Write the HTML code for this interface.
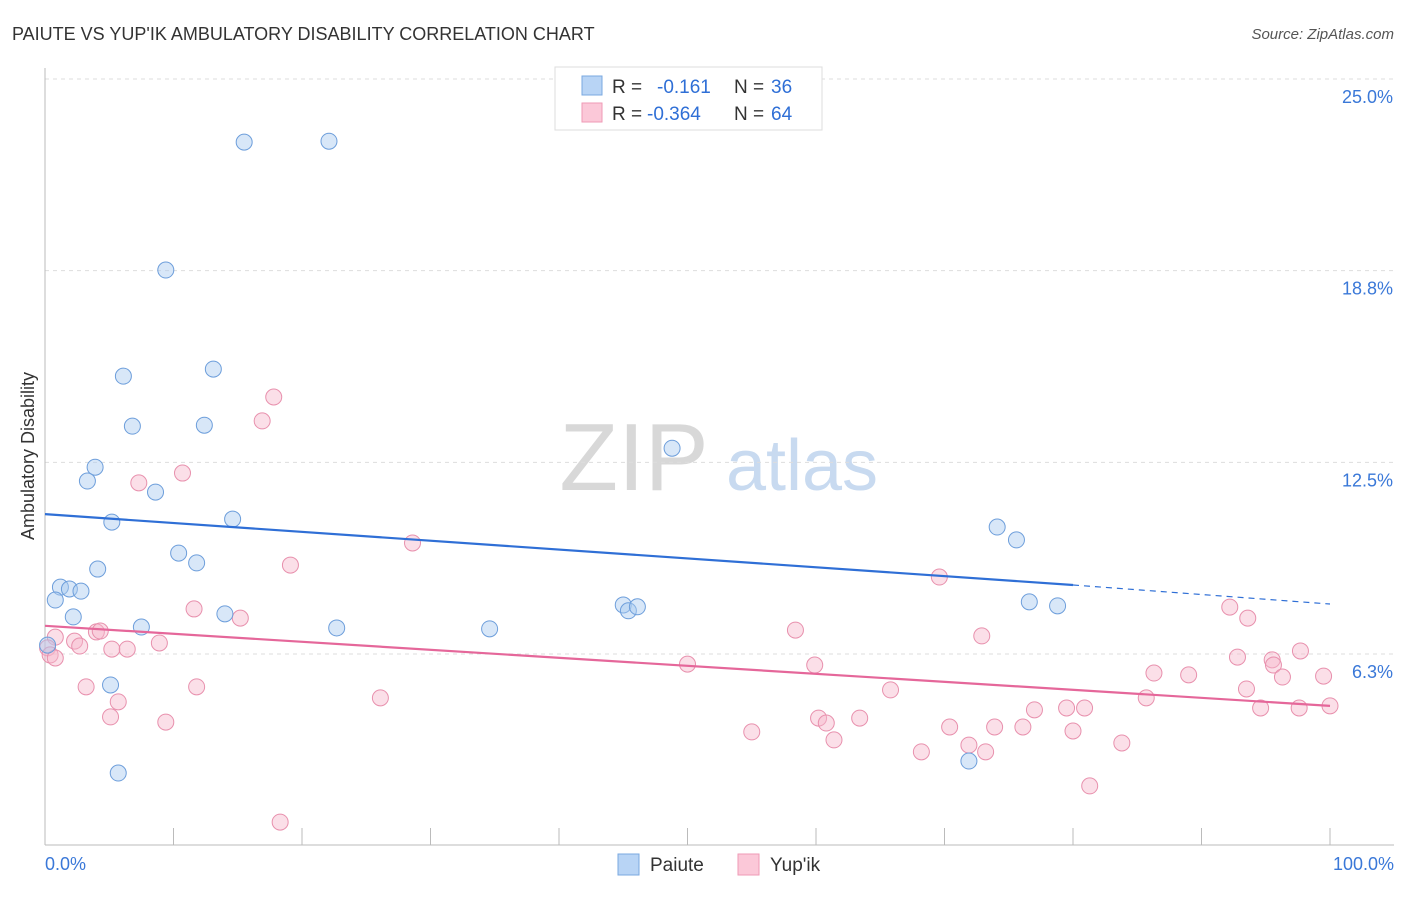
<!DOCTYPE html>
<html><head><meta charset="utf-8"><style>
body{margin:0;background:#fff;font-family:"Liberation Sans",sans-serif;}
svg text{font-family:"Liberation Sans",sans-serif;}
</style></head><body>
<svg id="chart" width="1406" height="892" viewBox="0 0 1406 892" xmlns="http://www.w3.org/2000/svg">
<text x="12" y="40" font-size="18" fill="#333">PAIUTE VS YUP'IK AMBULATORY DISABILITY CORRELATION CHART</text>
<text x="1394" y="39" font-size="15" fill="#555" text-anchor="end" font-style="italic">Source: ZipAtlas.com</text>
<g>
<text x="634" y="490" font-size="96" fill="#d8d8d8" text-anchor="middle" font-family="Liberation Serif, serif">ZIP</text>
<text x="802" y="490" font-size="72" fill="#c8daf0" text-anchor="middle">atlas</text>
</g>
<g id="grid"></g>
<g id="axes"></g>
<g id="marks"></g>
<text transform="translate(34,456) rotate(-90)" font-size="18" fill="#333" text-anchor="middle">Ambulatory Disability</text>
<g>
<rect x="555" y="67" width="267" height="63" fill="#fff" stroke="#ddd"/>
<rect x="582" y="76" width="20" height="19" fill="#b8d4f5" stroke="#7aa8e0"/>
<rect x="582" y="103" width="20" height="19" fill="#fbc8d8" stroke="#ef9ab6"/>
<text x="612" y="93" font-size="19" fill="#333">R = </text><text x="657" y="93" font-size="19" fill="#2f6fd6">-0.161</text>
<text x="734" y="93" font-size="19" fill="#333">N = </text><text x="771" y="93" font-size="19" fill="#2f6fd6">36</text>
<text x="612" y="120" font-size="19" fill="#333">R = </text><text x="647" y="120" font-size="19" fill="#2f6fd6">-0.364</text>
<text x="734" y="120" font-size="19" fill="#333">N = </text><text x="771" y="120" font-size="19" fill="#2f6fd6">64</text>
</g>
<g>
<rect x="618" y="854" width="21" height="21" fill="#b8d4f5" stroke="#7aa8e0"/>
<text x="650" y="871" font-size="19" fill="#333">Paiute</text>
<rect x="738" y="854" width="21" height="21" fill="#fbc8d8" stroke="#ef9ab6"/>
<text x="770" y="871" font-size="19" fill="#333">Yup'ik</text>
</g>
</svg>
<script>
const yTicks=[6.25,12.5,18.75,25];
const yTickLabels=["6.3%","12.5%","18.8%","25.0%"];
const xTicks=[0,10,20,30,40,50,60,70,80,90,100];
const paiuteX=[15.5,22.1,9.4,6.1,13.1,6.8,12.4,3.9,3.3,8.6,48.8,5.2,14.6,10.4,11.8,4.1,1.2,1.9,2.8,0.8,2.2,7.5,14.0,22.7,34.6,45.0,45.4,46.1,74.1,75.6,76.6,78.8,5.1,5.7,71.9,0.2];
const paiuteY=[22.94,22.97,18.77,15.31,15.54,13.68,13.71,12.34,11.89,11.53,12.96,10.55,10.65,9.54,9.22,9.02,8.43,8.37,8.30,8.01,7.46,7.13,7.56,7.10,7.07,7.85,7.66,7.79,10.39,9.97,7.95,7.82,5.24,2.37,2.76,6.54];
const yupikX=[17.8,16.9,10.7,7.3,28.6,19.1,11.6,15.2,69.6,58.4,72.9,92.2,93.6,0.8,2.3,4.0,4.3,2.7,5.2,6.4,8.9,0.2,0.4,0.8,3.2,5.7,11.8,5.1,9.4,26.1,50.0,59.9,65.8,86.3,89.0,92.8,95.5,95.6,97.7,99.5,85.7,93.5,96.3,55.0,60.2,60.8,61.4,63.4,70.4,68.2,71.9,73.2,73.9,76.1,77.0,79.5,80.9,80.0,83.8,81.3,94.6,97.6,100,18.3];
const yupikY=[14.63,13.85,12.15,11.83,9.87,9.15,7.72,7.42,8.76,7.03,6.84,7.78,7.42,6.80,6.67,6.97,7.00,6.51,6.41,6.41,6.61,6.45,6.22,6.12,5.18,4.69,5.18,4.20,4.03,4.82,5.92,5.89,5.08,5.63,5.57,6.15,6.06,5.89,6.35,5.53,4.82,5.11,5.50,3.71,4.16,4.00,3.45,4.16,3.87,3.06,3.28,3.06,3.87,3.87,4.43,4.49,4.49,3.74,3.35,1.95,4.49,4.49,4.56,0.77];
const paiuteTrendX=[0,80,100];
const paiuteTrendY=[10.81,8.50,7.88];
const yupikTrendX=[0,100];
const yupikTrendY=[7.17,4.56];

const NS="http://www.w3.org/2000/svg";
const sx=v=>45+v*12.85;
const sy=v=>845.7-v*30.67;
function mk(tag,parent,attrs){const e=document.createElementNS(NS,tag);for(const k in attrs)e.setAttribute(k,attrs[k]);document.getElementById(parent).appendChild(e);return e;}

yTicks.forEach((t,i)=>{
  const g=mk('line','grid',{x1:45,x2:1394,y1:sy(t),y2:sy(t),stroke:'#ddd','stroke-dasharray':'4,4'});
  
  
  const l=mk('text','axes',{x:1393,y:sy(t)+24,'font-size':18,fill:'#3a78d8','text-anchor':'end'});
  l.textContent=yTickLabels[i];
  
  
});
const ax=mk('line','axes',{x1:45,x2:1394,y1:845,y2:845,stroke:'#bbb'});


const ay=mk('line','axes',{x1:45,x2:45,y1:68,y2:845,stroke:'#bbb'});


xTicks.forEach(t=>{
  const k=mk('line','axes',{x1:sx(t),x2:sx(t),y1:828,y2:845,stroke:'#bbb'});
  
  
});
const xl0=mk('text','axes',{x:45,y:870,'font-size':18,fill:'#3a78d8'});xl0.textContent='0.0%';


const xl1=mk('text','axes',{x:1394,y:870,'font-size':18,fill:'#3a78d8','text-anchor':'end'});xl1.textContent='100.0%';



function dots(xs,ys,fill,stroke,name){
  xs.forEach((x,i)=>{
    const c=mk('circle','marks',{cx:sx(x),cy:sy(ys[i]),r:8,fill:fill,'fill-opacity':0.45,stroke:stroke,'stroke-width':1});
    
    
  });
}
dots(yupikX,yupikY,'#f7b8cc','#e890ad','yupik-point');
dots(paiuteX,paiuteY,'#a9c9f0','#6d9edb','paiute-point');

const p1=mk('line','marks',{x1:sx(paiuteTrendX[0]),y1:sy(paiuteTrendY[0]),x2:sx(paiuteTrendX[1]),y2:sy(paiuteTrendY[1]),stroke:'#2f6fd6','stroke-width':2.2});


const p2=mk('line','marks',{x1:sx(paiuteTrendX[1]),y1:sy(paiuteTrendY[1]),x2:sx(paiuteTrendX[2]),y2:sy(paiuteTrendY[2]),stroke:'#2f6fd6','stroke-width':1.2,'stroke-dasharray':'6,5'});


const y1=mk('line','marks',{x1:sx(yupikTrendX[0]),y1:sy(yupikTrendY[0]),x2:sx(yupikTrendX[1]),y2:sy(yupikTrendY[1]),stroke:'#e5679a','stroke-width':2.2});


</script>
</body></html>
